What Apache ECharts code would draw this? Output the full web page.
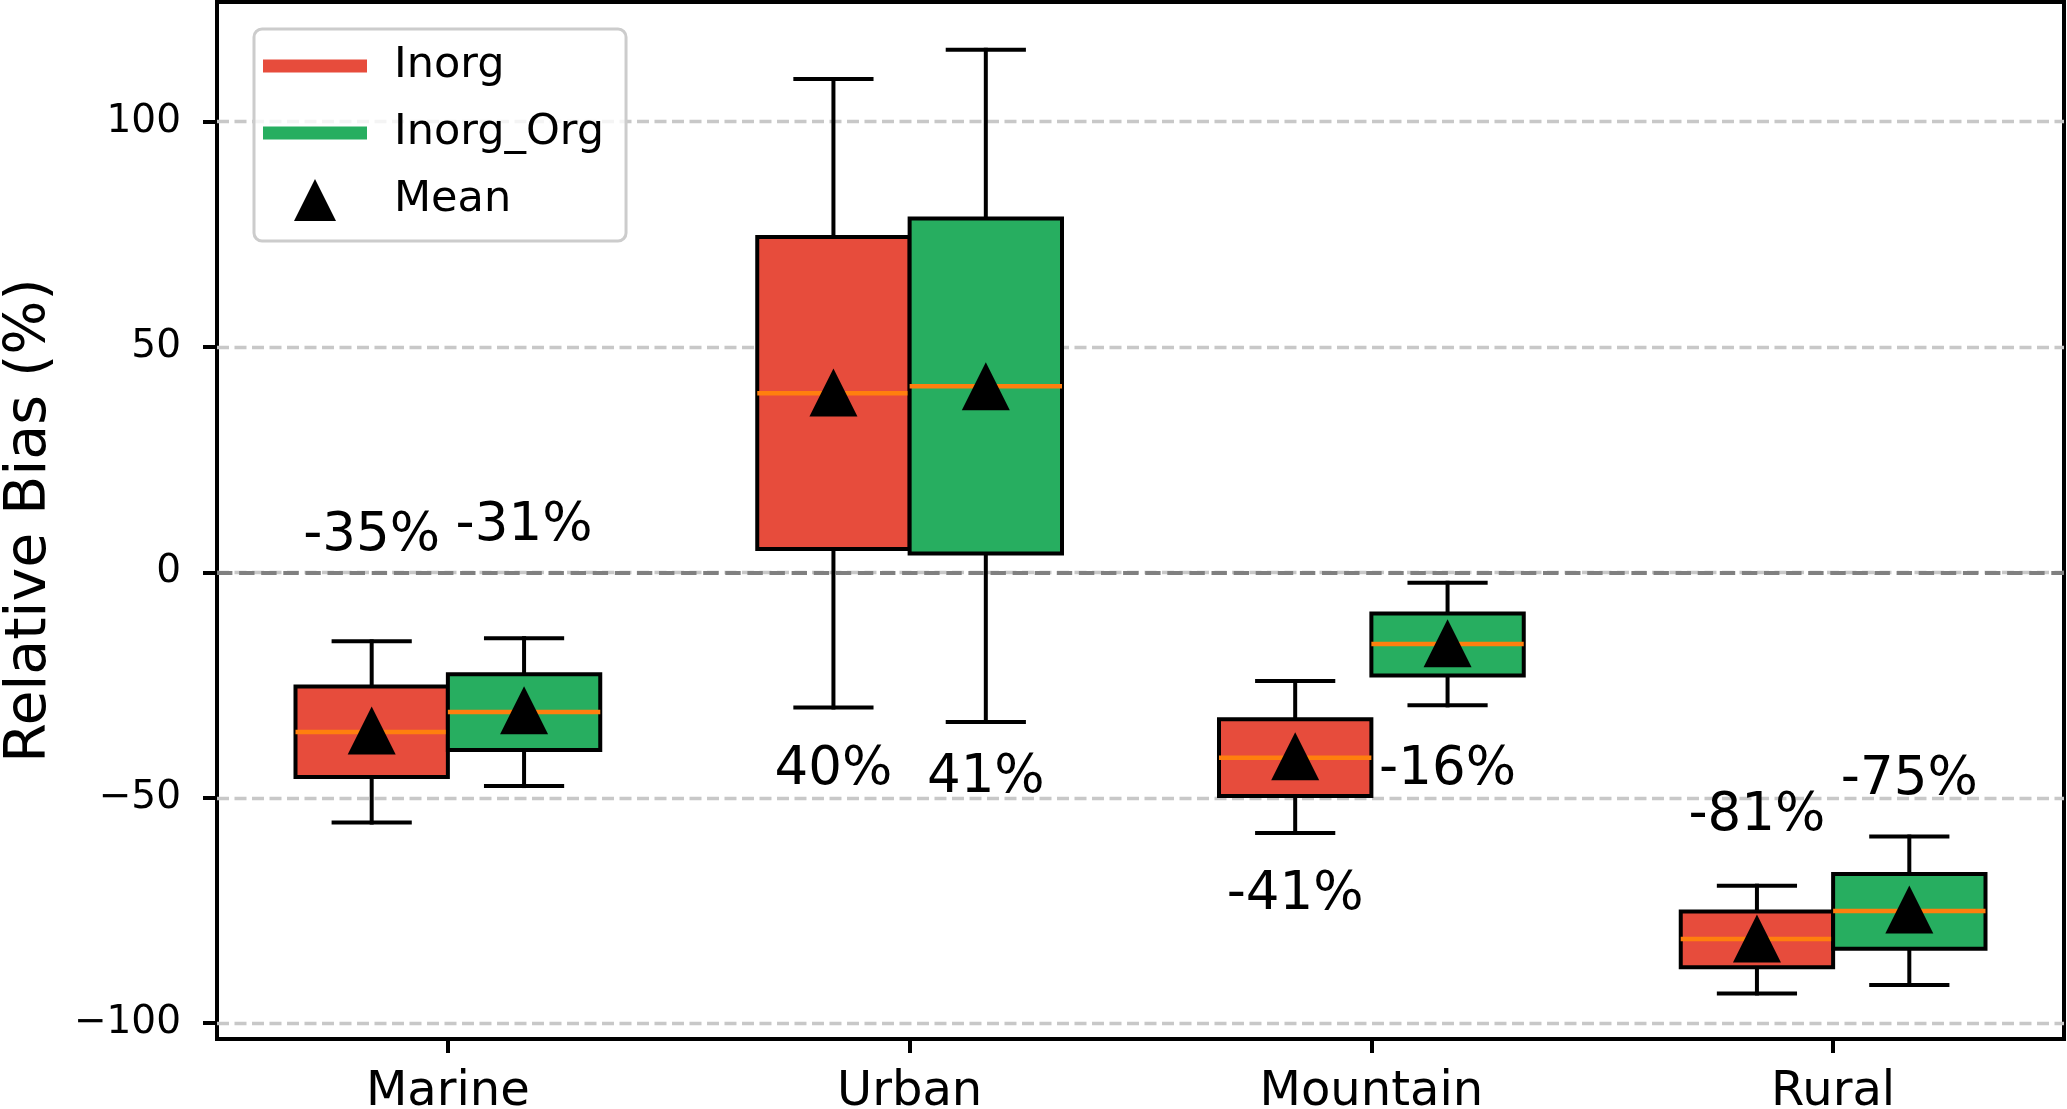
<!DOCTYPE html>
<html>
<head>
<meta charset="utf-8">
<script src="https://cdn.jsdelivr.net/npm/echarts@6/dist/echarts.min.js"></script>
<style>
html, body { margin: 0; padding: 0; background: #ffffff; }
#chart { width: 2067px; height: 1109px; }
</style>
</head>
<body>
<div id="chart"></div>
<script>
// ---------------- data ----------------
const categories = ['Marine', 'Urban', 'Mountain', 'Rural'];
const seriesNames = ['Inorg', 'Inorg_Org'];

// Inorg
const inorgLow    = [-55.5, -30.0, -57.8, -93.4];
const inorgQ1     = [-45.4,   5.2, -49.6, -87.6];
const inorgMedian = [-35.4,  39.7, -41.1, -81.3];
const inorgQ3     = [-25.3,  74.4, -32.6, -75.2];
const inorgHigh   = [-15.3, 109.4, -24.1, -69.5];
const inorgMean   = [-35.1,  39.9, -40.8, -81.2];

// Inorg_Org
const orgLow    = [-47.4, -33.2, -29.5, -91.5];
const orgQ1     = [-39.4,   4.2, -22.9, -83.5];
const orgMedian = [-31.0,  41.3, -15.9, -75.1];
const orgQ3     = [-22.6,  78.5,  -9.1, -66.9];
const orgHigh   = [-14.6, 115.9,  -2.3, -58.6];
const orgMean   = [-30.6,  41.3, -15.7, -74.8];

// y (data units) where each mean label is centred
const inorgLabelY = [8.0, -43.8, -71.7, -54.0];
const orgLabelY   = [10.2, -45.6, -44.0, -46.0];

const yTicks = [-100, -50, 0, 50, 100];

// ---------------- style ----------------
const RED = '#e74c3c';
const GREEN = '#27ae60';
const MEDIAN = '#ff7f0e';
const FONT = '"DejaVu Sans", "Liberation Sans", sans-serif';
const OFFSET = 0.165;   // box centre offset (category units)
const BOX_W = 0.33;     // box width (category units)
const CAP_W = 0.165;    // cap width (category units)
const Y_MIN = -103.5, Y_MAX = 126.5;

function buildData(off, low, q1, med, q3, high, labelY, mean) {
  return categories.map((c, i) => [i + off, low[i], q1[i], med[i], q3[i], high[i], labelY[i], mean[i]]);
}

function makeRender(fill) {
  return function (params, api) {
    const x = api.value(0);
    const unit = api.size([1, 0])[0];
    const cx = api.coord([x, 0])[0];
    const hb = BOX_W * unit / 2;
    const hc = CAP_W * unit / 2;
    const yLow = api.coord([x, api.value(1)])[1];
    const yQ1 = api.coord([x, api.value(2)])[1];
    const yMed = api.coord([x, api.value(3)])[1];
    const yQ3 = api.coord([x, api.value(4)])[1];
    const yHigh = api.coord([x, api.value(5)])[1];
    const yLab = api.coord([x, api.value(6)])[1];
    const mean = api.value(7);
    const lineStyle = { stroke: '#000', lineWidth: 4, lineCap: 'square' };
    return {
      type: 'group',
      children: [
        { type: 'line', shape: { x1: cx, y1: yQ1, x2: cx, y2: yLow }, style: lineStyle },
        { type: 'line', shape: { x1: cx, y1: yQ3, x2: cx, y2: yHigh }, style: lineStyle },
        { type: 'line', shape: { x1: cx - hc, y1: yLow, x2: cx + hc, y2: yLow }, style: lineStyle },
        { type: 'line', shape: { x1: cx - hc, y1: yHigh, x2: cx + hc, y2: yHigh }, style: lineStyle },
        { type: 'rect', shape: { x: cx - hb, y: yQ3, width: 2 * hb, height: yQ1 - yQ3 },
          style: { fill: fill, stroke: '#000', lineWidth: 4 } },
        { type: 'line', shape: { x1: cx - hb, y1: yMed, x2: cx + hb, y2: yMed },
          style: { stroke: MEDIAN, lineWidth: 4.5 } },
        { type: 'text', style: { text: Math.round(mean) + '%', x: cx, y: yLab,
          fill: '#000', fontSize: 53, fontFamily: FONT, align: 'center', verticalAlign: 'middle' } }
      ]
    };
  };
}

const inorgData = buildData(-OFFSET, inorgLow, inorgQ1, inorgMedian, inorgQ3, inorgHigh, inorgLabelY, inorgMean);
const orgData = buildData(OFFSET, orgLow, orgQ1, orgMedian, orgQ3, orgHigh, orgLabelY, orgMean);
const meanData = categories.map((c, i) => [i - OFFSET, inorgMean[i]])
  .concat(categories.map((c, i) => [i + OFFSET, orgMean[i]]));

const chart = echarts.init(document.getElementById('chart'));
chart.setOption({
  backgroundColor: '#ffffff',
  animation: false,
  textStyle: { fontFamily: FONT },
  grid: { left: 217, right: 3, top: 2, bottom: 70, containLabel: false, outerBoundsMode: 'none',
    show: true, borderColor: '#000', borderWidth: 4, backgroundColor: 'transparent' },
  legend: {
    orient: 'vertical', left: 254, top: 29,
    padding: [15, 22, 19, 9],
    itemWidth: 104, itemHeight: 42, itemGap: 23,
    backgroundColor: 'rgba(255,255,255,0.8)', borderColor: '#cccccc', borderWidth: 3, borderRadius: 8,
    symbolKeepAspect: true, selectedMode: false,
    textStyle: { fontSize: 43, fontFamily: FONT, color: '#000', padding: [0, 0, 0, 22], lineHeight: 44 },
    data: [
      { name: seriesNames[0], icon: 'path://M0,0H104V13H0Z', itemStyle: { color: RED, opacity: 1 } },
      { name: seriesNames[1], icon: 'path://M0,0H104V13H0Z', itemStyle: { color: GREEN, opacity: 1 } },
      { name: 'Mean', icon: 'path://M1,0L2,2L0,2Z', itemStyle: { color: '#000', opacity: 1 } }
    ]
  },
  xAxis: [
    {
      type: 'category', data: categories, boundaryGap: true,
      axisLine: { show: false, onZero: false },
      axisTick: { show: true, alignWithLabel: true, length: 14, lineStyle: { color: '#000', width: 4 } },
      axisLabel: { fontSize: 48, color: '#000', margin: 30, fontFamily: FONT },
      splitLine: { show: false }
    },
    { type: 'value', min: -0.5, max: 3.5, show: false, axisLine: { onZero: false } }
  ],
  yAxis: {
    type: 'value', min: Y_MIN, max: Y_MAX,
    name: 'Relative Bias (%)', nameLocation: 'middle', nameGap: 158,
    nameTextStyle: { fontSize: 57, color: '#000', fontFamily: FONT },
    axisLine: { show: false, onZero: false },
    axisTick: { show: true, length: 14, lineStyle: { color: '#000', width: 4 }, customValues: yTicks },
    axisLabel: {
      fontSize: 39, color: '#000', margin: 36, fontFamily: FONT,
      customValues: yTicks,
      formatter: v => (v < 0 ? '\u2212' + Math.abs(v) : String(v))
    },
    splitLine: { show: true,
      lineStyle: { color: '#c8c8c8', width: 3.3, type: [12, 5.5] } }
  },
  series: [
    {
      name: seriesNames[0], type: 'custom', xAxisIndex: 1, yAxisIndex: 0,
      itemStyle: { color: RED }, renderItem: makeRender(RED), data: inorgData,
      encode: { x: 0, y: [1, 2, 3, 4, 5] },
      markLine: {
        silent: true, symbol: 'none', label: { show: false },
        lineStyle: { color: '#808080', width: 4.2, type: [15.4, 6.7], opacity: 1 },
        data: [{ yAxis: 0 }]
      }
    },
    {
      name: seriesNames[1], type: 'custom', xAxisIndex: 1, yAxisIndex: 0,
      itemStyle: { color: GREEN }, renderItem: makeRender(GREEN), data: orgData,
      encode: { x: 0, y: [1, 2, 3, 4, 5] }
    },
    {
      name: 'Mean', type: 'scatter', xAxisIndex: 1, yAxisIndex: 0,
      symbol: 'triangle', symbolSize: 48, itemStyle: { color: '#000', opacity: 1 },
      data: meanData, z: 5
    }
  ]
});
</script>
</body>
</html>
